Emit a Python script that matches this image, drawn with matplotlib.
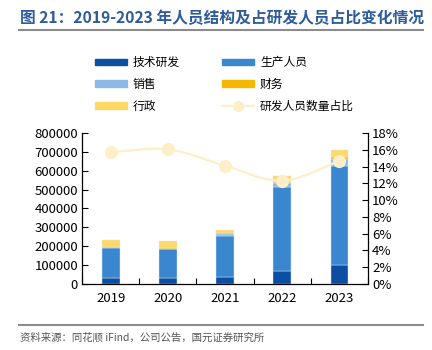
import matplotlib
matplotlib.use('Agg')
import matplotlib.pyplot as plt
from matplotlib.path import Path
from matplotlib.patches import PathPatch
from matplotlib.lines import Line2D
import numpy as np

plt.rcParams['font.family'] = ['Noto Sans CJK SC', 'DejaVu Sans']

# Data
years = ['2019', '2020', '2021', '2022', '2023']
tech = [33000, 32000, 39000, 67000, 101000]
production = [156000, 152000, 217000, 445000, 526000]
sales = [5000, 4000, 8000, 23000, 37000]
finance = [2000, 2000, 4000, 8000, 8000]
admin = [37000, 38000, 20000, 27000, 38000]
rd_ratio = [15.7, 16.05, 14.1, 12.3, 14.7]

series_names = ['技术研发', '生产人员', '销售', '财务', '行政']
colors = ['#0B4EA2', '#3A87CF', '#8DB9E6', '#F5B800', '#FFD966']
line_color = '#FFEFC8'

fig = plt.figure(figsize=(4.32, 3.5), dpi=100)
ax = fig.add_axes([0.19, 0.1886, 0.662, 0.4314])

x = np.arange(len(years))
bottom = np.zeros(len(years))
handles = []
for vals, name, c in zip([tech, production, sales, finance, admin], series_names, colors):
    ax.bar(x, vals, width=0.31, bottom=bottom, color=c, edgecolor='#DDE9F6', linewidth=0.3, zorder=2)
    bottom += np.array(vals)
    handles.append(plt.Rectangle((0, 0), 1, 1, color=c, label=name))

ax.set_xlim(-0.5, 4.5)
ax.set_ylim(0, 800000)
ax.set_yticks(range(0, 800001, 100000))
ax.set_xticks(x)
ax.set_xticklabels(years)
ax.set_xticks(np.arange(-0.5, 5, 1), minor=True)
ax.tick_params(axis='x', which='major', length=0, labelsize=9.5, pad=6)
ax.tick_params(axis='x', which='minor', direction='in', length=4, width=0.8)
ax.tick_params(axis='y', direction='in', length=4, width=0.8, labelsize=9.5, pad=3)
for s in ['top', 'right']:
    ax.spines[s].set_visible(False)
for s in ['left', 'bottom']:
    ax.spines[s].set_linewidth(0.9)

ax2 = ax.twinx()
ax2.set_ylim(0, 18)
ax2.set_yticks(range(0, 19, 2))
ax2.set_yticklabels([f'{v}%' for v in range(0, 19, 2)])
ax2.tick_params(axis='y', direction='in', length=4, width=0.8, labelsize=9.5, pad=3)
for s in ['top', 'left', 'bottom']:
    ax2.spines[s].set_visible(False)
ax2.spines['right'].set_linewidth(0.9)

# smooth line through the points (Catmull-Rom as cubic Bezier)
pts = np.column_stack([x, rd_ratio]).astype(float)
verts = [pts[0]]
codes = [Path.MOVETO]
for i in range(len(pts) - 1):
    p0 = pts[i - 1] if i > 0 else pts[i]
    p1, p2 = pts[i], pts[i + 1]
    p3 = pts[i + 2] if i + 2 < len(pts) else pts[i + 1]
    verts += [p1 + (p2 - p0) / 6, p2 - (p3 - p1) / 6, p2]
    codes += [Path.CURVE4] * 3
ax2.add_patch(PathPatch(Path(verts, codes), facecolor='none', edgecolor=line_color, lw=1.6, zorder=3))
ax2.plot(x, rd_ratio, linestyle='none', marker='o', markersize=8.5, color=line_color, zorder=4)

handles.append(Line2D([0], [0], color=line_color, lw=1.6, marker='o', markersize=7, label='研发人员数量占比'))
order = [0, 2, 4, 1, 3, 5]
leg = fig.legend([handles[i] for i in order], [handles[i].get_label() for i in order],
                 ncol=2, loc='upper left', bbox_to_anchor=(0.195, 0.87), frameon=False,
                 fontsize=8.5, handlelength=2.7, handleheight=0.5, columnspacing=3.6,
                 labelspacing=0.75, handletextpad=0.5)

# title and source
fig.text(0.046, 0.948, '图 21：2019-2023 年人员结构及占研发人员占比变化情况', fontsize=11.3,
         fontweight='bold', color='#2E5C9A', va='center', ha='left')
fig.add_artist(Line2D([0.044, 0.979], [0.914, 0.914], color='#8C8C8C', lw=1.5))
fig.add_artist(Line2D([0.044, 0.979], [0.071, 0.071], color='#8C8C8C', lw=1.5))
fig.text(0.046, 0.035, '资料来源：同花顺 iFind，公司公告，国元证券研究所', fontsize=7.5,
         color='#555555', va='center', ha='left')

fig.savefig('out.png', dpi=100)
